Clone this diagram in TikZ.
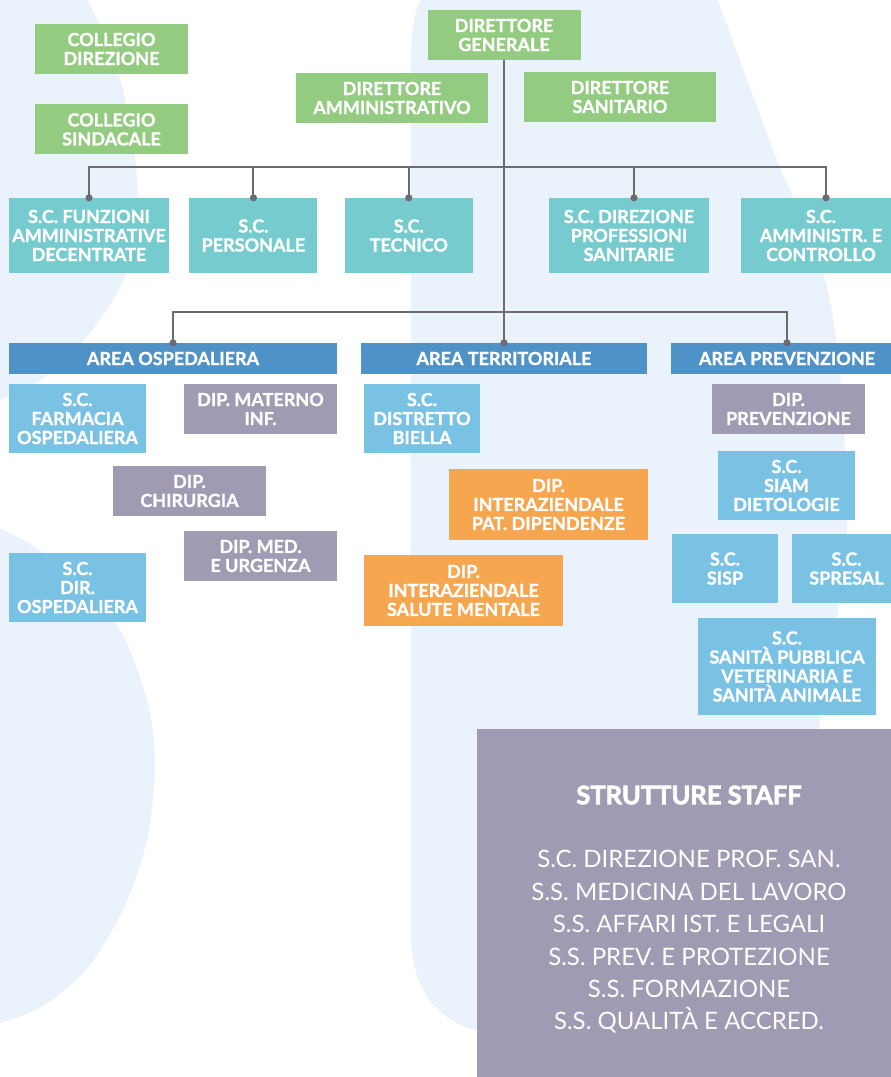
\documentclass[tikz,border=0pt]{standalone}
\usepackage{fontspec}
\setmainfont{Lato}[BoldFeatures={FakeBold=1.2}]
\newfontfamily\heavyfont{Lato}[BoldFeatures={FakeBold=2.6}]
\usetikzlibrary{positioning,arrows.meta}

\definecolor{bgblue}{HTML}{EAF3FB}
\definecolor{dirgreen}{HTML}{93CB80}
\definecolor{scteal}{HTML}{76CBCE}
\definecolor{areablue}{HTML}{4F92C8}
\definecolor{uoblue}{HTML}{7AC2E4}
\definecolor{diplilac}{HTML}{A09AB3}
\definecolor{interorange}{HTML}{F7A650}
\definecolor{linegrey}{HTML}{6B6B70}

\begin{document}
\begin{tikzpicture}[
                        x=1pt, y=-1pt,
                        >={Circle[length=7pt]},
                        box/.style={rectangle, inner sep=0pt, align=center, text=white,
                                    font=\bfseries\fontsize{18}{19}\selectfont},
                        dir/.style={box, fill=dirgreen, minimum width=153pt, minimum height=50pt},
                        sc/.style={box, fill=scteal, minimum height=75pt},
                        area/.style={box, fill=areablue, minimum height=31pt},
                        uo/.style={box, fill=uoblue},
                        dip/.style={box, fill=diplilac},
                        inter/.style={box, fill=interorange, minimum width=199pt, minimum height=71pt},
                        conn/.style={draw=linegrey, line width=2pt, shorten >=-3.5pt}
                    ]
                    \useasboundingbox (0,0) rectangle (891,1077);
                    \clip (0,0) rectangle (891,1077);

                    % Background
                    \fill[bgblue] plot[smooth] coordinates {(85,-5) (117,67) (134,150) (138,215) (128,268) (113,300) (80,345) (40,380) (-5,402)} -- (-5,-5) -- cycle;
                    \fill[bgblue] plot[smooth] coordinates {(-5,526) (43,553) (115,622) (147,700) (155,766) (147,840) (125,905) (90,965) (45,1005) (-5,1025)} -- cycle;
                    \fill[bgblue] (411,935) -- (411,60) .. controls (411,25) and (416,5) .. (424,-5)
                        -- plot[smooth] coordinates {(716,-5) (773,150) (830,300) (847,530) (820,720) (800,900)}
                        -- (790,1030) -- (480,1030) .. controls (440,1025) and (411,990) .. (411,935) -- cycle;

                    % Direzione
                    \node [dir] (cdir) at (111.5,49) {COLLEGIO\\DIREZIONE};
                    \node [dir,below=30pt of cdir] (csin) {COLLEGIO\\SINDACALE};
                    \node [dir] (dg) at (504,35) {DIRETTORE\\GENERALE};
                    \node [dir,minimum width=192pt] (damm) at (392,98) {DIRETTORE\\AMMINISTRATIVO};
                    \node [dir,minimum width=192pt] (dsan) at (620,97) {DIRETTORE\\SANITARIO};

                    % Strutture complesse
                    \node [sc,minimum width=160pt] (fun) at (89,235.5) {S.C. FUNZIONI\\AMMINISTRATIVE\\DECENTRATE};
                    \node [sc,minimum width=128pt,right=20pt of fun] (pers) {S.C.\\PERSONALE};
                    \node [sc,minimum width=128pt,right=27pt of pers] (tecn) {S.C.\\TECNICO};
                    \node [sc,minimum width=160pt] (dprof) at (629,235.5) {S.C. DIREZIONE\\PROFESSIONI\\SANITARIE};
                    \node [sc,minimum width=160pt] (amco) at (821,235.5) {S.C.\\AMMINISTR. E\\CONTROLLO};

                    % Aree
                    \node [area,minimum width=328pt] (aosp) at (173,358.5) {AREA OSPEDALIERA};
                    \node [area,minimum width=286pt] (ater) at (504,358.5) {AREA TERRITORIALE};
                    \node [area,minimum width=232pt] (apre) at (787,358.5) {AREA PREVENZIONE};

                    % Area ospedaliera
                    \node [uo,minimum width=137pt,minimum height=69pt] (farm) at (77.5,418.5) {S.C.\\FARMACIA\\OSPEDALIERA};
                    \node [dip,minimum width=153pt,minimum height=50pt] (dmat) at (260.5,409) {DIP. MATERNO\\INF.};
                    \node [dip,minimum width=153pt,minimum height=50pt] (dchi) at (189.5,491) {DIP.\\CHIRURGIA};
                    \node [dip,minimum width=153pt,minimum height=50pt] (dmed) at (260.5,556) {DIP. MED.\\E URGENZA};
                    \node [uo,minimum width=137pt,minimum height=69pt] (dosp) at (77.5,587.5) {S.C.\\DIR.\\OSPEDALIERA};

                    % Area territoriale
                    \node [uo,minimum width=116pt,minimum height=69pt] (dist) at (422,418.5) {S.C.\\DISTRETTO\\BIELLA};
                    \node [inter] (dpat) at (548.5,504.5) {DIP.\\INTERAZIENDALE\\PAT. DIPENDENZE};
                    \node [inter] (dsal) at (463.5,590.5) {DIP.\\INTERAZIENDALE\\SALUTE MENTALE};

                    % Area prevenzione
                    \node [dip,minimum width=153pt,minimum height=50pt] (dprev) at (788.5,409) {DIP.\\PREVENZIONE};
                    \node [uo,minimum width=137pt,minimum height=69pt] (siam) at (786.5,485.5) {S.C.\\SIAM\\DIETOLOGIE};
                    \node [uo,minimum width=106pt,minimum height=69pt] (sisp) at (725,568.5) {S.C.\\SISP};
                    \node [uo,minimum width=109pt,minimum height=69pt] (spre) at (846.5,568.5) {S.C.\\SPRESAL};
                    \node [uo,minimum width=178pt,minimum height=97pt] (svet) at (787,666.5) {S.C.\\SANITÀ PUBBLICA\\VETERINARIA E\\SANITÀ ANIMALE};

                    % Staff
                    \node [dip,minimum width=414pt,minimum height=350pt] (staff) at (684,904) {};
                    \node [box,font=\heavyfont\bfseries\fontsize{25.5}{27}\selectfont] (stit) at (689,795) {STRUTTURE STAFF};
                    \node [box,font=\fontsize{24}{32.4}\selectfont] (slist) at (689,942) {S.C. DIREZIONE PROF. SAN.\\S.S. MEDICINA DEL LAVORO\\S.S. AFFARI IST. E LEGALI\\S.S. PREV. E PROTEZIONE\\S.S. FORMAZIONE\\S.S. QUALITÀ E ACCRED.};

                    % Connections
                    \coordinate (topbus) at (504,167);
                    \coordinate (areabus) at (504,312);
                    \draw [conn,->] (dg.south) -- (ater.north);
                    \foreach \n in {fun,pers,tecn}
                        \draw [conn,->] (topbus) -| (\n.north);
                    \foreach \n in {dprof,amco}
                        \draw [conn,->] (topbus) -| ([xshift=5pt]\n.north);
                    \foreach \n in {aosp,apre}
                        \draw [conn,->] (areabus) -| (\n.north);
                \end{tikzpicture}
\end{document}
